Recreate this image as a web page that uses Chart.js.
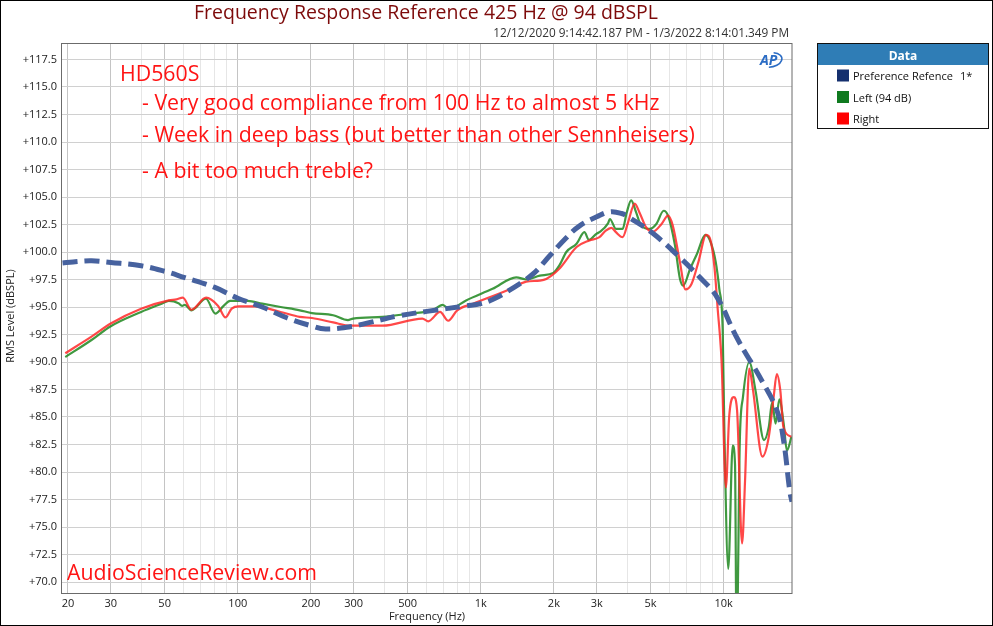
<!DOCTYPE html>
<html>
<head>
<meta charset="utf-8">
<script src="https://cdn.jsdelivr.net/npm/chart.js@4.4.1/dist/chart.umd.min.js"></script>
<style>
  html, body { margin: 0; padding: 0; background: #fff; }
  #wrap { width: 993px; height: 626px; }
</style>
</head>
<body>
<div id="wrap"><canvas id="chart" width="993" height="626"></canvas></div>
<script>
// values (Hz / dBSPL)
const refFreq  = [19, 21, 25, 30, 40, 50, 60, 80, 100, 126, 160, 200, 230, 290, 350, 460, 600, 870, 1000, 1135, 1350, 1640, 1930, 2250, 2560, 3000, 3400, 3800, 4110, 5110, 6600, 7970, 9380, 11330, 14350, 16550, 17600, 18720, 19100];
const refLevel = [99.0, 99.1, 99.2, 99.05, 98.75, 98.25, 97.7, 96.8, 95.8, 95.0, 94.0, 93.3, 93.0, 93.2, 93.6, 94.2, 94.6, 95.1, 95.3, 95.75, 96.7, 98.0, 99.7, 101.3, 102.4, 103.2, 103.65, 103.5, 103.1, 101.7, 99.5, 97.7, 95.9, 92.2, 88.3, 85.6, 83.0, 78.2, 77.3];

const leftFreq  = [19.5, 25, 30, 40, 48.6, 52, 57, 59, 60.5, 64.4, 74, 80.8, 87.4, 93, 110, 126, 150, 180, 202, 247, 284, 298, 394, 510, 635, 697, 743, 870, 1118, 1400, 1540, 1750, 1990, 2110, 2250, 2480, 2670, 2790, 2990, 3080, 3340, 3400, 3600, 3835, 3990, 4160, 4360, 4570, 4950, 5280, 5660, 5900, 6300, 6600, 6810, 7270, 7750, 8410, 8830, 9270, 9590, 9900, 10060, 10440, 10890, 11130, 11300, 11650, 12000, 12740, 13520, 14650, 15330, 15830, 16350, 16950, 17650, 18200, 19000];
const leftLevel = [90.45, 92.0, 93.25, 94.55, 95.3, 95.55, 95.35, 95.1, 95.2, 94.7, 95.75, 94.4, 95.1, 95.55, 95.55, 95.3, 95.0, 94.7, 94.45, 94.25, 93.8, 93.95, 94.1, 94.4, 94.7, 95.2, 94.8, 95.6, 96.65, 97.7, 97.5, 97.85, 98.1, 98.8, 100.0, 100.75, 101.8, 101.1, 101.65, 101.8, 102.6, 103.0, 102.1, 102.1, 103.6, 104.7, 103.6, 102.4, 102.1, 102.55, 103.75, 103.3, 100.6, 97.6, 96.95, 98.45, 99.8, 101.55, 100.9, 99.1, 96.65, 93.0, 83.8, 71.2, 82.4, 80.7, 64.0, 82.9, 86.8, 90.0, 87.4, 82.9, 84.1, 86.35, 84.4, 86.6, 84.4, 81.95, 83.2];

const rightFreq  = [19.5, 25, 30, 40, 52, 56, 59.4, 64.4, 74, 83, 89, 94.4, 101, 118, 150, 180, 202, 247, 290, 394, 575, 608, 680, 735, 800, 930, 1280, 1540, 1750, 1860, 2110, 2480, 2800, 3080, 3270, 3450, 3600, 3835, 4040, 4300, 4500, 4790, 5120, 5550, 5900, 6170, 6600, 6960, 7370, 7870, 8470, 8830, 9170, 9470, 9640, 9800, 10210, 10530, 11010, 11350, 11900, 12240, 12740, 13170, 14430, 15330, 16050, 16540, 17100, 17600, 19000];
const rightLevel = [90.8, 92.3, 93.5, 94.85, 95.6, 95.7, 95.85, 94.75, 95.85, 95.1, 94.05, 94.85, 95.05, 95.05, 94.55, 94.1, 94.0, 93.6, 93.3, 93.3, 93.95, 93.7, 94.55, 93.75, 94.7, 95.3, 96.5, 97.3, 97.4, 97.55, 98.5, 100.45, 101.05, 101.35, 101.95, 102.2, 101.8, 101.35, 102.7, 104.4, 103.6, 102.25, 101.85, 102.55, 103.3, 102.4, 99.1, 96.6, 97.1, 99.1, 101.55, 101.05, 98.5, 94.5, 92.5, 90.0, 78.6, 85.0, 86.8, 85.6, 73.5, 79.2, 89.4, 87.6, 81.4, 83.2, 86.8, 88.9, 87.4, 84.1, 83.2];

// x grid lines and which of them carry a label
const xGrid = [20, 30, 40, 50, 60, 70, 80, 90, 100, 200, 300, 400, 500, 600, 700, 800, 900,
               1000, 2000, 3000, 4000, 5000, 6000, 7000, 8000, 9000, 10000];
const xTickValues = [20, 30, 50, 100, 200, 300, 500, 1000, 2000, 3000, 5000, 10000];
const xTickLabels = ['20', '30', '50', '100', '200', '300', '500', '1k', '2k', '3k', '5k', '10k'];
const yTicks = [70, 72.5, 75, 77.5, 80, 82.5, 85, 87.5, 90, 92.5, 95, 97.5, 100, 102.5, 105, 107.5, 110, 112.5, 115, 117.5];

const notes = ['HD560S',
               '- Very good compliance from 100 Hz to almost 5 kHz',
               '- Week in deep bass (but better than other Sennheisers)',
               '- A bit too much treble?'];

const legendItems = [
  { text: 'Preference Refence', color: '#15306e' },
  { text: 'Left (94 dB)', color: '#0f7a1f' },
  { text: 'Right', color: '#ff0000' }
];

const pts = (xs, ys) => xs.map((x, i) => ({ x, y: ys[i] }));
const FONT = '"Open Sans", "Noto Sans", sans-serif';

const overlay = {
  id: 'overlay',
  afterDraw(chart) {
    const ctx = chart.ctx, a = chart.chartArea;
    ctx.save();

    // plot frame
    ctx.strokeStyle = '#6b6b6b';
    ctx.lineWidth = 1;
    ctx.strokeRect(a.left - 0.5, a.top + 0.5, a.right - a.left + 0.5, a.bottom - a.top);

    // title + date range
    ctx.fillStyle = '#7d0a0a';
    ctx.font = '19.5px ' + FONT;
    ctx.textAlign = 'center';
    ctx.textBaseline = 'alphabetic';
    ctx.fillText('Frequency Response Reference 425 Hz @ 94 dBSPL', 426, 19);
    ctx.fillStyle = '#333';
    ctx.font = '11.8px ' + FONT;
    ctx.textAlign = 'right';
    ctx.fillText('12/12/2020 9:14:42.187 PM - 1/3/2022 8:14:01.349 PM', 789, 37);

    // axis titles
    ctx.fillStyle = '#222';
    ctx.font = '11px ' + FONT;
    ctx.textAlign = 'center';
    ctx.fillText('Frequency (Hz)', 427, 620);
    ctx.save();
    ctx.translate(14, 316);
    ctx.rotate(-Math.PI / 2);
    ctx.fillText('RMS Level (dBSPL)', 0, 0);
    ctx.restore();

    // red notes
    ctx.fillStyle = '#ff1414';
    ctx.textAlign = 'left';
    ctx.font = '21.3px ' + FONT;
    ctx.fillText(notes[0], 120, 81);
    ctx.fillText(notes[1], 142, 110);
    ctx.fillText(notes[2], 142, 142);
    ctx.fillText(notes[3], 142, 178);
    ctx.fillText('AudioScienceReview.com', 67, 580);

    // AP logo
    ctx.fillStyle = '#2b6cc4';
    ctx.strokeStyle = '#2b6cc4';
    ctx.font = 'italic bold 14px ' + FONT;
    ctx.fillText('AP', 760, 65);
    ctx.lineWidth = 1.6;
    ctx.beginPath();
    ctx.ellipse(771, 60, 11, 7, -0.2, -1.2, 1.9);
    ctx.stroke();

    // legend box
    const bx = 817.5, by = 43.5, bw = 171, bh = 85;
    ctx.fillStyle = '#2f7db6';
    ctx.fillRect(bx, by, bw, 21.5);
    ctx.strokeStyle = '#111';
    ctx.lineWidth = 1;
    ctx.strokeRect(bx, by, bw, bh);
    ctx.fillStyle = '#fff';
    ctx.font = 'bold 12px ' + FONT;
    ctx.textAlign = 'center';
    ctx.fillText('Data', 903, 60);
    ctx.font = '11px ' + FONT;
    ctx.textAlign = 'left';
    legendItems.forEach((it, i) => {
      const y = 69.5 + i * 21.5;
      ctx.fillStyle = it.color;
      ctx.fillRect(837, y, 12, 12);
      ctx.fillStyle = '#111';
      ctx.fillText(it.text, 853, y + 10.5);
    });
    ctx.fillText('1*', 960, 80);

    // outer frame
    ctx.strokeStyle = '#000';
    ctx.strokeRect(0.5, 0.5, 992, 625);
    ctx.restore();
  }
};

new Chart(document.getElementById('chart'), {
  type: 'line',
  data: {
    datasets: [
      { label: 'Preference Refence', data: pts(refFreq, refLevel), borderColor: '#47629f',
        borderWidth: 5, borderDash: [15, 7], pointRadius: 0, tension: 0.4 },
      { label: 'Right', data: pts(rightFreq, rightLevel), borderColor: 'rgba(255,40,40,0.85)',
        borderWidth: 2.2, pointRadius: 0, cubicInterpolationMode: 'monotone' },
      { label: 'Left (94 dB)', data: pts(leftFreq, leftLevel), borderColor: 'rgba(30,135,30,0.85)',
        borderWidth: 2.2, pointRadius: 0, cubicInterpolationMode: 'monotone' }
    ]
  },
  options: {
    responsive: false,
    animation: false,
    layout: { padding: { left: 0, top: 43, right: 201, bottom: 0 } },
    plugins: { legend: { display: false }, tooltip: { enabled: false } },
    scales: {
      x: {
        type: 'logarithmic',
        bounds: 'data',
        min: 18.9,
        max: 19100,
        afterBuildTicks: s => { s.ticks = xGrid.map(v => ({ value: v })); },
        afterFit: s => { s.height = 33; },
        ticks: {
          autoSkip: false, maxRotation: 0, padding: 4, color: '#222',
          font: { family: FONT, size: 11 },
          callback: v => { const i = xTickValues.indexOf(v); return i < 0 ? '' : xTickLabels[i]; }
        },
        grid: {
          drawTicks: false,
          color: c => (c.tick && xTickValues.includes(c.tick.value)) ? '#c4c4c4' : '#e6e6e6'
        },
        border: { display: false }
      },
      y: {
        bounds: 'data',
        min: 69,
        max: 119,
        afterBuildTicks: s => { s.ticks = yTicks.map(v => ({ value: v })); },
        afterFit: s => { s.width = 62; },
        ticks: {
          padding: 5, color: '#222',
          font: { family: FONT, size: 11 },
          callback: v => '+' + Number(v).toFixed(1)
        },
        grid: { drawTicks: false, color: '#d0d0d0' },
        border: { display: false }
      }
    }
  },
  plugins: [overlay]
});
</script>
</body>
</html>
